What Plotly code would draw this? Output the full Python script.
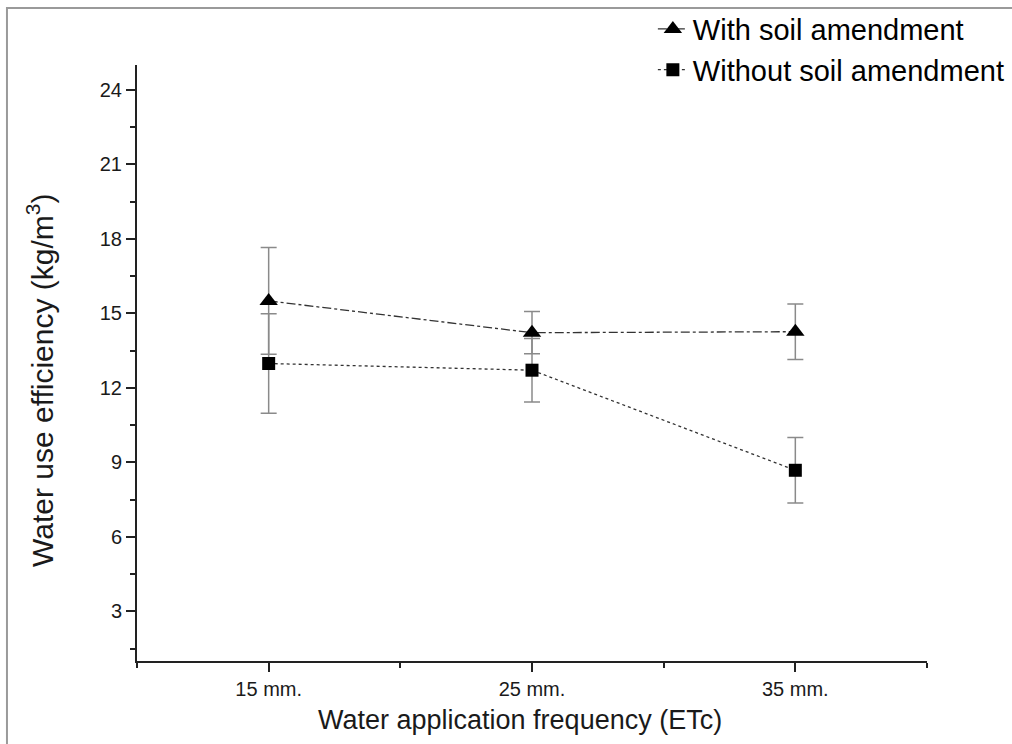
import plotly.graph_objects as go

categories = ["15 mm.", "25 mm.", "35 mm."]
x_pos = [0, 1, 2]
with_amend = [15.5, 14.22, 14.26]
with_amend_err = [2.15, 0.85, 1.12]
without_amend = [12.98, 12.71, 8.68]
without_amend_err = [2.0, 1.28, 1.32]
y_ticks = [3, 6, 9, 12, 15, 18, 21, 24]

FONT = "Arial, Liberation Sans, sans-serif"

fig = go.Figure()
fig.add_trace(go.Scatter(
    x=x_pos, y=with_amend, name="With soil amendment",
    mode="lines+markers",
    line=dict(color="#333333", width=1.3, dash="dashdot"),
    marker=dict(symbol="triangle-up", size=16, color="black"),
    error_y=dict(type="data", array=with_amend_err, color="#8a8a8a", thickness=1.5, width=8),
))
fig.add_trace(go.Scatter(
    x=x_pos, y=without_amend, name="Without soil amendment",
    mode="lines+markers",
    line=dict(color="#333333", width=1.3, dash="dot"),
    marker=dict(symbol="square", size=13, color="black"),
    error_y=dict(type="data", array=without_amend_err, color="#8a8a8a", thickness=1.5, width=8),
))

fig.add_shape(type="rect", xref="paper", yref="paper",
              x0=-0.1646, x1=1.2, y0=-0.2, y1=1.0956,
              line=dict(color="#9a9a9a", width=2), layer="below")

fig.add_annotation(text="Water use efficiency (kg/m<sup>3</sup>)", textangle=-90,
                   xref="paper", yref="paper", x=-0.1228, y=0.4715,
                   xanchor="center", yanchor="middle", showarrow=False,
                   font=dict(size=30, family=FONT, color="#1a1a1a"))
fig.add_annotation(text="Water application frequency (ETc)",
                   xref="paper", yref="paper", x=0.4848, y=-0.099,
                   xanchor="center", yanchor="middle", showarrow=False,
                   font=dict(size=27, family=FONT, color="#1a1a1a"))

fig.update_layout(
    width=1012, height=744,
    margin=dict(l=137, r=85, t=65, b=83, autoexpand=False),
    paper_bgcolor="white", plot_bgcolor="white",
    font=dict(family=FONT, color="#1a1a1a"),
    showlegend=True,
    legend=dict(x=0.653, y=1.103, xanchor="left", yanchor="top",
                font=dict(size=29, family=FONT, color="black"),
                bgcolor="rgba(0,0,0,0)", tracegroupgap=0),
    xaxis=dict(
        range=[-0.5, 2.5], tickvals=x_pos, ticktext=categories,
        showline=True, linecolor="#222222", linewidth=2,
        ticks="outside", ticklen=9, tickwidth=1.5, tickcolor="#222222",
        minor=dict(tick0=-0.5, dtick=1, ticks="outside", ticklen=5, tickwidth=1.5, tickcolor="#222222"),
        showgrid=False, zeroline=False,
        tickfont=dict(size=20, family=FONT, color="#1a1a1a"),
    ),
    yaxis=dict(
        range=[1, 25], tickvals=y_ticks,
        showline=True, linecolor="#222222", linewidth=2,
        ticks="outside", ticklen=9, tickwidth=1.5, tickcolor="#222222",
        minor=dict(tick0=1.5, dtick=3, ticks="outside", ticklen=5, tickwidth=1.5, tickcolor="#222222"),
        showgrid=False, zeroline=False,
        tickfont=dict(size=20, family=FONT, color="#1a1a1a"),
    ),
)

fig.write_html("out.html")
